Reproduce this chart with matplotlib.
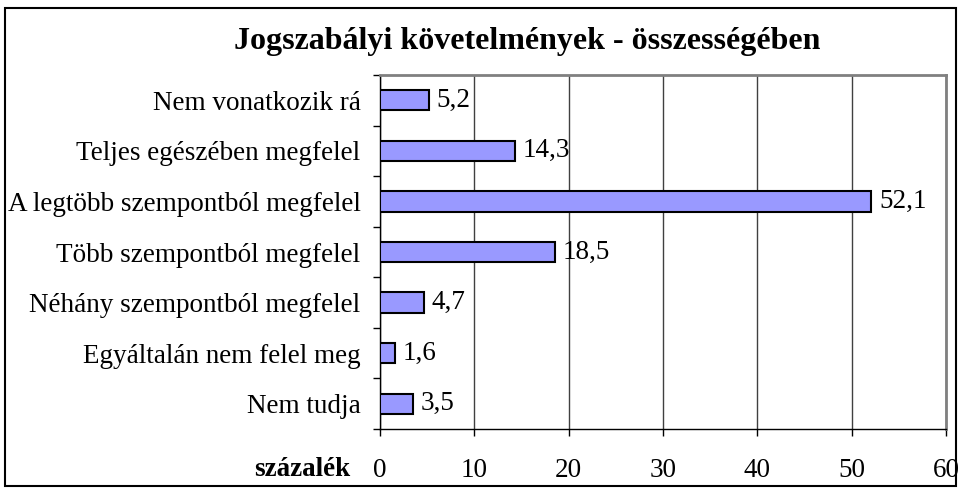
import matplotlib.pyplot as plt
from matplotlib.patches import Rectangle

categories = ['Nem vonatkozik rá', 'Teljes egészében megfelel', 'A legtöbb szempontból megfelel',
              'Több szempontból megfelel', 'Néhány szempontból megfelel',
              'Egyáltalán nem felel meg', 'Nem tudja']
values = [5.2, 14.3, 52.1, 18.5, 4.7, 1.6, 3.5]
xticks = [0, 10, 20, 30, 40, 50, 60]

plt.rcParams['font.family'] = ['Liberation Serif', 'DejaVu Serif']
fs = 19.5

fig = plt.figure(figsize=(9.61, 4.88), dpi=100)
ax = fig.add_axes([380 / 961, 1 - 429 / 488, (946 - 380) / 961, (429 - 75) / 488])

pos = list(range(len(categories)))[::-1]
ax.barh(pos, values, height=0.4, color='#9999ff', edgecolor='black', linewidth=1.5, zorder=3)
for p, v in zip(pos, values):
    ax.annotate(f'{v:.1f}'.replace('.', ','), (v, p), xytext=(5.5, 0), textcoords='offset points',
                va='center', ha='left', fontsize=fs)

ax.set_xlim(0, 60)
ax.set_ylim(-0.5, len(categories) - 0.5)
ax.set_xticks(xticks)
ax.set_xticklabels([str(t) for t in xticks], fontsize=fs)
ax.set_yticks(pos)
ax.set_yticklabels(categories, fontsize=fs)
ax.set_yticks([p + 0.5 for p in range(-1, len(categories))], minor=True)
ax.tick_params(axis='y', which='major', length=0, pad=14)
ax.tick_params(axis='y', which='minor', length=5, width=1, direction='out')
ax.tick_params(axis='x', length=5, width=1, direction='out', pad=16)
ax.grid(axis='x', color='#404040', linewidth=1, zorder=0)

for s in ['top', 'right']:
    ax.spines[s].set_color('#808080')
    ax.spines[s].set_linewidth(2)
for s in ['left', 'bottom']:
    ax.spines[s].set_color('black')
    ax.spines[s].set_linewidth(1)

fig.text(527 / 961, 1 - 41 / 488, 'Jogszabályi követelmények - összességében',
         ha='center', va='center', fontsize=23, fontweight='bold')
fig.text(350 / 961, 1 - 469 / 488, 'százalék', ha='right', va='center', fontsize=fs, fontweight='bold')

fig.patches.append(Rectangle((5 / 961, 2 / 488), 951 / 961, 478 / 488, transform=fig.transFigure,
                             fill=False, edgecolor='black', linewidth=1.5))

fig.savefig('out.png', dpi=100)
